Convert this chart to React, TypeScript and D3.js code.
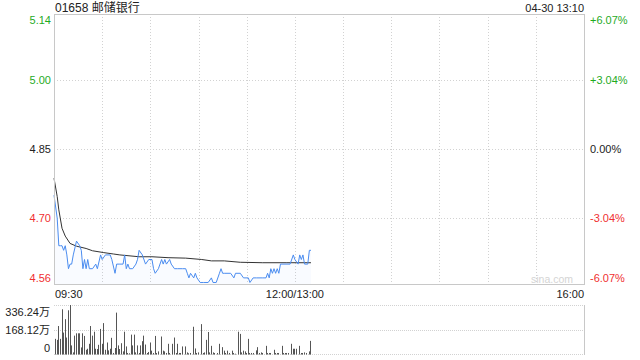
import React from "react";
import * as d3 from "d3";

const title = "01658 邮储银行";
const stamp = "04-30 13:10";
const prevClose = 4.85;
const priceTicks = [5.14, 5.0, 4.85, 4.7, 4.56];
const pctTicks = ["+6.07%", "+3.04%", "0.00%", "-3.04%", "-6.07%"];
const timeLabels = ["09:30", "12:00/13:00", "16:00"];
const volTicks = ["336.24万", "168.12万", "0"];

const priceMinutes = [0,2,3,4,5,6,7,8,9,10,11,12,14,16,17,18,19,20,21,22,24,26,27,29,30,32,35,36,38,39,41,43,44,45,46,47,49,51,52,53,55,57,59,61,62,63,65,67,68,69,70,72,73,75,77,80,82,83,84,85,87,88,89,91,93,94,96,98,99,101,103,104,105,106,110,112,113,116,118,121,122,124,126,130,132,133,134,135,136,137,138,139,140,141,147,149,150,152,153,154,155,156,158,159,160];
const prices = [4.75,4.70,4.64,4.64,4.64,4.63,4.64,4.62,4.59,4.60,4.60,4.62,4.65,4.64,4.63,4.59,4.61,4.59,4.61,4.59,4.59,4.60,4.59,4.62,4.61,4.62,4.62,4.61,4.58,4.60,4.60,4.60,4.62,4.59,4.60,4.59,4.59,4.60,4.61,4.63,4.62,4.60,4.61,4.61,4.59,4.58,4.59,4.61,4.60,4.61,4.60,4.61,4.60,4.59,4.59,4.59,4.59,4.58,4.57,4.58,4.57,4.58,4.57,4.56,4.56,4.56,4.56,4.57,4.56,4.56,4.58,4.59,4.58,4.58,4.58,4.57,4.58,4.58,4.57,4.57,4.56,4.57,4.57,4.57,4.57,4.58,4.57,4.59,4.58,4.59,4.58,4.59,4.58,4.60,4.60,4.62,4.61,4.60,4.62,4.61,4.62,4.60,4.60,4.63,4.63];

const avgMinutes = [0,2,3,5,7,10,14,20,24,31,37,41,53,61,71,82,92,98,106,116,130,145,160];
const avgPrices = [4.787,4.747,4.718,4.678,4.661,4.645,4.639,4.634,4.629,4.625,4.622,4.620,4.616,4.616,4.614,4.613,4.610,4.607,4.607,4.604,4.603,4.603,4.603];

const volMinutes = [1,2,3,4,5,6,7,8,9,10,11,12,13,14,15,16,17,18,19,20,21,22,23,24,25,26,27,28,29,30,31,32,33,34,35,36,37,38,39,40,41,42,43,44,45,46,47,48,49,50,51,52,53,54,55,56,57,58,59,60,61,62,63,64,65,67,68,69,70,71,72,74,75,76,77,78,79,80,82,83,84,85,87,88,89,90,92,93,94,95,96,97,98,99,100,102,103,105,106,107,108,109,111,112,113,115,116,117,118,119,120,121,122,123,124,126,127,128,129,130,132,133,134,135,137,138,139,140,142,143,144,145,146,148,149,150,151,153,154,155,156,157,159,160];
const volumes = [104,97,192,104,307,147,239,113,300,336,59,11,126,142,142,142,45,142,124,29,36,70,192,126,153,36,34,63,172,70,212,29,79,25,36,111,7,41,284,59,34,74,18,153,52,7,5,133,59,133,11,59,7,59,88,126,65,7,14,79,23,7,124,7,18,120,23,18,7,70,7,70,113,7,70,7,7,52,52,11,5,7,187,38,7,11,205,7,11,97,151,11,56,11,7,7,70,47,23,7,23,7,23,7,2,153,138,11,23,18,7,104,7,7,7,25,47,7,11,7,56,7,7,7,29,7,7,7,56,7,7,7,7,70,36,36,36,56,7,7,11,7,18,90];

const W = 640, H = 360;
const L = 54, R = 584, PT = 14, PB = 284.5, VT = 305, VB = 354;
const GREEN = "#1fab1f", RED = "#f03030", GRID = "#d2d2d2", BORDER = "#c8c8c8";
const FONT = "'Liberation Sans', Arial, 'Noto Sans CJK SC', sans-serif";

export default function App() {
  const x = d3.scaleLinear().domain([0, 330]).range([L, R]);
  const y = d3.scaleLinear().domain([prevClose * (1 - 0.0607), prevClose * (1 + 0.0607)]).range([PB, PT]);
  const yv = d3.scaleLinear().domain([0, 336.24]).range([VB, VT]);

  const pts: [number, number][] = priceMinutes.map((m, i) => [m, prices[i]]);
  const avgPts: [number, number][] = avgMinutes.map((m, i) => [m, avgPrices[i]]);
  const line = d3.line<[number, number]>().x(d => x(d[0])).y(d => y(d[1]));
  const area = d3.area<[number, number]>().x(d => x(d[0])).y0(PB).y1(d => y(d[1]));

  const vGrid = d3.range(1, 11).map(k => Math.round(x(k * 30)) + 0.5);
  const hGridVals = [priceTicks[1], priceTicks[2], priceTicks[3]];
  const colorFor = (i: number) => (i < 2 ? GREEN : i === 2 ? "#222" : RED);
  const labelY = (i: number) => {
    if (i === 0) return PT + 10;
    if (i === priceTicks.length - 1) return PB - 3;
    return y(priceTicks[i]) + 4;
  };

  return (
    <svg width={W} height={H} style={{ position: "absolute", left: 0, top: 0, background: "#fff" }} fontFamily={FONT}>
      <text x={55} y={12} fontSize={12} fill="#222">{title}</text>
      <text x={R} y={12} fontSize={11} fill="#222" textAnchor="end">{stamp}</text>

      {vGrid.map((gx, i) => (
        <line key={"vg" + i} x1={gx} x2={gx} y1={PT} y2={PB} stroke={GRID} strokeDasharray="1,2" />
      ))}
      {hGridVals.map((v, i) => (
        <line key={"hg" + i} x1={L} x2={R} y1={Math.round(y(v)) + 0.5} y2={Math.round(y(v)) + 0.5} stroke={GRID} strokeDasharray="1,2" />
      ))}

      <text x={573} y={283} fontSize={10.5} fill="#d4d4d4" textAnchor="end">sina.com</text>

      <path d={area(pts) || ""} fill="#4a8cf0" fillOpacity={0.03} />
      <path d={line(avgPts) || ""} fill="none" stroke="#333" strokeWidth={1} />
      <path d={line(pts) || ""} fill="none" stroke="#4a8cf0" strokeWidth={1} />

      <rect x={L + 0.5} y={PT + 0.5} width={R - L} height={PB - PT - 0.5} fill="none" stroke={BORDER} />

      {priceTicks.map((v, i) => (
        <text key={"pl" + i} x={51} y={labelY(i)} fontSize={11} fill={colorFor(i)} textAnchor="end">{v.toFixed(2)}</text>
      ))}
      {pctTicks.map((t, i) => (
        <text key={"pr" + i} x={590} y={labelY(i)} fontSize={11} fill={colorFor(i)}>{t}</text>
      ))}

      <text x={55} y={297.5} fontSize={11} fill="#222">{timeLabels[0]}</text>
      <text x={x(150)} y={297.5} fontSize={11} fill="#222" textAnchor="middle">{timeLabels[1]}</text>
      <text x={R} y={297.5} fontSize={11} fill="#222" textAnchor="end">{timeLabels[2]}</text>

      {[VT, (VT + VB) / 2, VB].map((gy, i) => (
        <line key={"vh" + i} x1={L} x2={R} y1={Math.round(gy) + 0.5} y2={Math.round(gy) + 0.5} stroke={GRID} strokeDasharray="1,1" />
      ))}
      <line x1={R + 0.5} x2={R + 0.5} y1={VT} y2={VB + 1} stroke={BORDER} />
      {volMinutes.map((m, i) => (
        <rect key={"vb" + i} x={Math.floor(x(m))} y={yv(volumes[i])} width={1} height={VB + 0.5 - yv(volumes[i])} fill="#555" />
      ))}
      <text x={50} y={316} fontSize={11} fill="#222" textAnchor="end">{volTicks[0]}</text>
      <text x={50} y={333.5} fontSize={11} fill="#222" textAnchor="end">{volTicks[1]}</text>
      <text x={50} y={351.5} fontSize={11} fill="#222" textAnchor="end">{volTicks[2]}</text>
    </svg>
  );
}
